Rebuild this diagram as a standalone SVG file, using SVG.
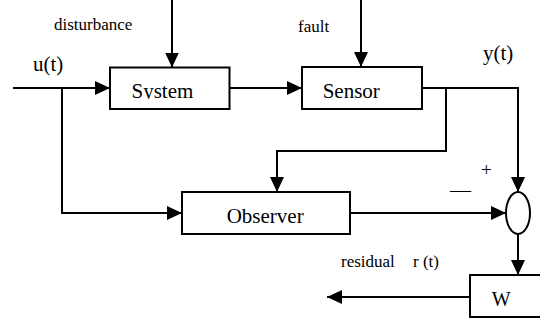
<svg xmlns="http://www.w3.org/2000/svg" width="540" height="323" viewBox="0 0 540 323">
  <style>
    .box { fill: #ffffff; stroke: #000000; stroke-width: 2; }
    .wire { fill: none; stroke: #000000; stroke-width: 2; }
    text { font-family: 'Liberation Serif', 'DejaVu Serif', serif; fill: #000000; }
    .big { font-size: 21px; }
    .small { font-size: 17px; }
  </style>
  <defs>
    <marker id="arrow" viewBox="0 0 15 14" refX="15" refY="7" markerWidth="15" markerHeight="14" markerUnits="userSpaceOnUse" orient="auto">
      <path d="M0,0 L15,7 L0,14 Z" fill="#000000"/>
    </marker>
    <clipPath id="sysclip">
      <rect x="110" y="68" width="120" height="31"/>
    </clipPath>
  </defs>
  <rect width="540" height="323" fill="#ffffff"/>

  <g id="connectors">
    <path class="wire" d="M13,88 H110" marker-end="url(#arrow)"/>
    <path class="wire" d="M62,88 V213 H182" marker-end="url(#arrow)"/>
    <path class="wire" d="M172,0 V67.5" marker-end="url(#arrow)"/>
    <path class="wire" d="M361,0 V67" marker-end="url(#arrow)"/>
    <path class="wire" d="M230,88 H302" marker-end="url(#arrow)"/>
    <path class="wire" d="M422,88 H518 V192" marker-end="url(#arrow)"/>
    <path class="wire" d="M446,88 V151 H277 V192" marker-end="url(#arrow)"/>
    <path class="wire" d="M350,213 H506" marker-end="url(#arrow)"/>
    <path class="wire" d="M518,234 V275" marker-end="url(#arrow)"/>
    <path class="wire" d="M470,297 H327" marker-end="url(#arrow)"/>
  </g>

  <g id="labels">
    <text class="small" font-family="Liberation Serif, serif" x="54" y="30">disturbance</text>
    <text class="big" font-family="Liberation Serif, serif" x="33" y="71">u(t)</text>
    <text class="small" font-family="Liberation Serif, serif" x="298" y="31.5">fault</text>
    <text class="big" font-family="Liberation Serif, serif" x="483" y="59.5">y(t)</text>
    <text class="big" font-family="Liberation Serif, serif" x="481" y="176" style="font-size:19px">+</text>
    <text class="big" font-family="Liberation Serif, serif" x="450" y="197">—</text>
    <text class="small" font-family="Liberation Serif, serif" x="341" y="266.5">residual<tspan x="413">r (t)</tspan></text>
  </g>

  <g id="system">
    <rect class="box" x="110" y="67.5" width="119.5" height="41.5"/>
    <text class="big" font-family="Liberation Serif, serif" x="131.5" y="97.7" clip-path="url(#sysclip)">System</text>
  </g>

  <g id="sensor">
    <rect class="box" x="302" y="67" width="120" height="42"/>
    <text class="big" font-family="Liberation Serif, serif" x="322.7" y="98.3">Sensor</text>
  </g>

  <g id="observer">
    <rect class="box" x="182" y="192" width="168" height="42"/>
    <text class="big" font-family="Liberation Serif, serif" x="226.7" y="222.7">Observer</text>
  </g>

  <g id="sum">
    <ellipse class="box" cx="518" cy="213" rx="12" ry="21"/>
  </g>

  <g id="w">
    <rect class="box" x="470" y="275" width="80" height="42"/>
    <text class="big" font-family="Liberation Serif, serif" x="491.7" y="305.7" style="font-size:20px">W</text>
  </g>
</svg>
